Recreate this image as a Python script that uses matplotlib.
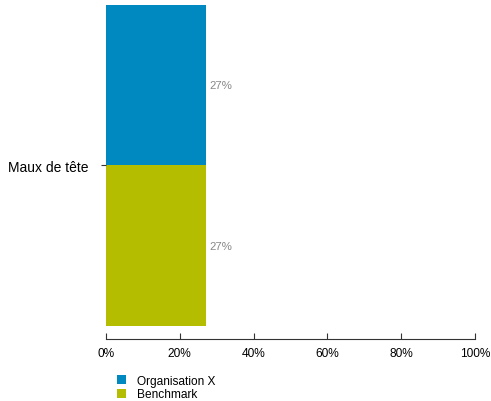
import matplotlib
matplotlib.use('Agg')
from matplotlib import pyplot as plt
from matplotlib.patches import Patch

# données
category = 'Maux de tête'
series = ['Organisation X', 'Benchmark']
values = [27, 27]
colors = ['#0088c0', '#b5bd00']
xticks = [0, 20, 40, 60, 80, 100]

plt.rcParams['font.family'] = ['Liberation Sans', 'DejaVu Sans']

fig = plt.figure(figsize=(4.91, 4.02), dpi=100)
ax = fig.add_axes([106 / 491, 1 - 340 / 402, 369 / 491, 334 / 402])

# Organisation X en haut, Benchmark en bas
ypos = [1, 0]
for y, v, c in zip(ypos, values, colors):
    ax.barh(y, v, height=1.0, color=c, left=0)
    ax.text(v + 1.0, y, '%d%%' % v, va='center', ha='left',
            fontsize=8.2, color='#888888')

ax.set_xlim(0, 100)
ax.set_ylim(-0.581, 1.5)
ax.set_xticks(xticks)
ax.set_xticklabels(['%d%%' % t for t in xticks], fontsize=8.6)
ax.set_yticks([0.5])
ax.set_yticklabels([category], fontsize=10)

for s in ['top', 'right', 'left']:
    ax.spines[s].set_visible(False)
ax.spines['bottom'].set_color('#333333')
ax.spines['bottom'].set_linewidth(0.8)
ax.tick_params(axis='x', direction='in', length=4, color='#333333', pad=6)
ax.tick_params(axis='y', direction='out', length=3.6, color='#333333', pad=9)

handles = [Patch(facecolor=c, edgecolor='none') for c in colors]
fig.legend(handles, series, loc='upper left', bbox_to_anchor=(111 / 491, 1 - 370 / 402),
           frameon=False, fontsize=8.6, handlelength=0.75, handleheight=0.75,
           handletextpad=0.9, labelspacing=0.12, borderpad=0)

fig.savefig('out.png', dpi=100)
